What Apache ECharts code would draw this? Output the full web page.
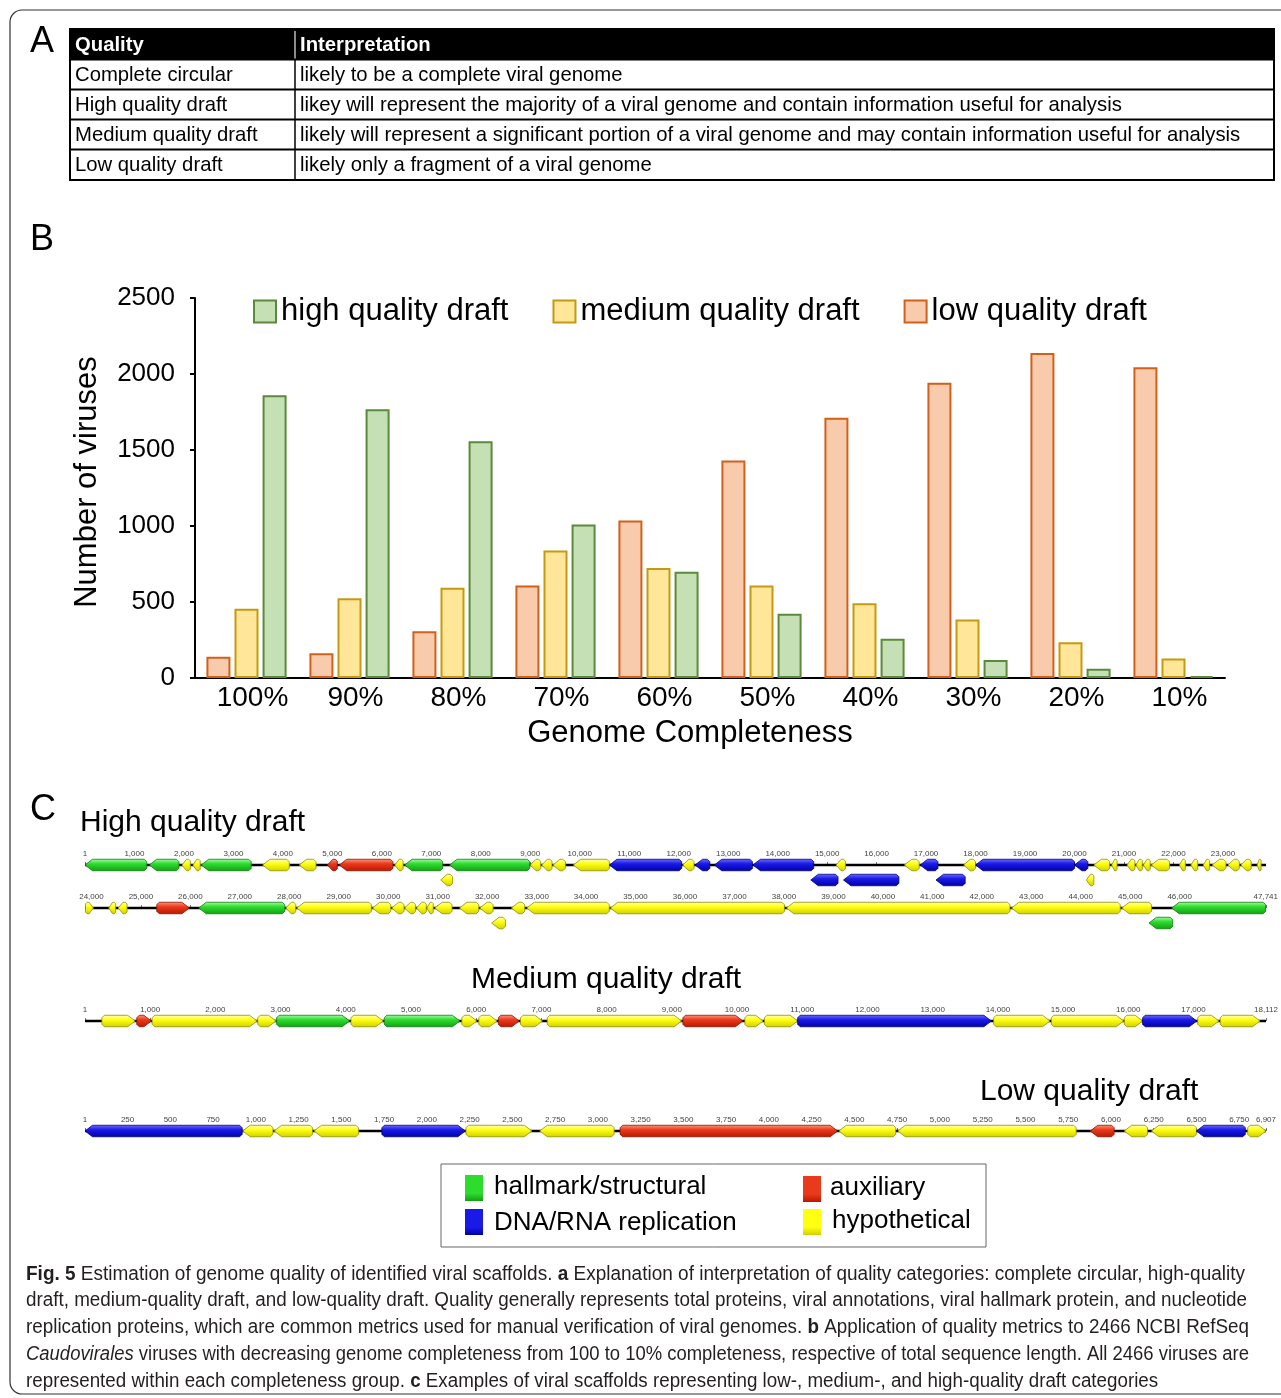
<!DOCTYPE html>
<html><head><meta charset="utf-8">
<script src="https://cdn.jsdelivr.net/npm/echarts@6/dist/echarts.min.js"></script>
<style>html,body{margin:0;padding:0;background:#fff}#c{width:1281px;height:1398px}</style>
</head><body><div id="c"></div>
<script>
// ---------- Panel B data ----------
const completeness = ['100%','90%','80%','70%','60%','50%','40%','30%','20%','10%'];
const lowQuality    = [140, 163, 307, 608, 1037, 1431, 1712, 1942, 2138, 2045];
const mediumQuality = [455, 525, 594, 838, 723, 608, 492, 385, 235, 128];
const highQuality   = [1860, 1768, 1557, 1010, 699, 422, 259, 118, 61, 13];
const yTicks = [0, 500, 1000, 1500, 2000, 2500];

// ---------- Panel A table ----------
const tableHeader = ['Quality', 'Interpretation'];
const tableRows = [
  ['Complete circular', 'likely to be a complete viral genome'],
  ['High quality draft', 'likey will represent the majority of a viral genome and contain information useful for analysis'],
  ['Medium quality draft', 'likely will represent a significant portion of a viral genome and may contain information useful for analysis'],
  ['Low quality draft', 'likely only a fragment of a viral genome']
];

// ---------- Panel C genomes: [start, end, strand, lane, category] ----------
// H hallmark/structural, R DNA/RNA replication, A auxiliary, U hypothetical
const hqLength = 47741;
const hqRowSplit = 23870;
const hqGenes = [
  [1,1250,-1,0,'H'],[1300,1900,-1,0,'H'],[1960,2130,-1,0,'U'],[2180,2330,-1,0,'U'],
  [2350,3360,-1,0,'H'],[3590,4130,-1,0,'U'],[4330,4670,-1,0,'U'],[4900,5100,-1,0,'A'],
  [5140,6225,-1,0,'A'],[6260,6430,-1,0,'U'],[6460,7230,-1,0,'H'],[7190,7430,-1,1,'U'],
  [7370,8990,-1,0,'H'],[9000,9210,-1,0,'U'],[9230,9440,-1,0,'U'],[9460,9710,-1,0,'U'],
  [9870,10600,-1,0,'U'],[10600,12060,-1,0,'R'],[12080,12310,-1,0,'U'],[12330,12630,-1,0,'R'],
  [12720,13490,-1,0,'R'],[13500,14730,-1,0,'R'],[14670,15220,-1,1,'R'],[15180,15370,-1,0,'U'],
  [15330,16450,-1,1,'R'],[16560,16860,-1,0,'U'],[16880,17240,-1,0,'R'],[17200,17790,-1,1,'R'],
  [17760,18000,-1,0,'U'],[18000,20000,-1,0,'R'],[20000,20270,-1,0,'R'],[20240,20390,-1,1,'U'],
  [20390,20710,-1,0,'U'],[20750,20860,-1,0,'U'],[21060,21220,-1,0,'U'],[21240,21370,-1,0,'U'],
  [21390,21530,-1,0,'U'],[21550,21920,-1,0,'U'],[22120,22240,-1,0,'U'],[22350,22490,-1,0,'U'],
  [22600,22730,-1,0,'U'],[22780,23060,-1,0,'U'],[23100,23330,-1,0,'U'],[23360,23570,-1,0,'U'],
  [23690,23770,-1,0,'U'],
  [23880,24040,1,0,'U'],[24350,24490,-1,0,'U'],[24540,24720,-1,0,'U'],[25320,25980,1,0,'A'],
  [26170,27910,-1,0,'H'],[27930,28130,-1,0,'U'],[28150,29660,-1,0,'U'],[29680,30050,-1,0,'U'],
  [30070,30320,-1,0,'U'],[30330,30550,-1,0,'U'],[30570,30770,-1,0,'U'],[30780,30910,-1,0,'U'],
  [30940,31290,-1,0,'U'],[31440,31830,-1,0,'U'],[31850,32120,-1,0,'U'],[32090,32370,-1,1,'U'],
  [32490,32760,-1,0,'U'],[32800,34470,-1,0,'U'],[34490,38010,-1,0,'U'],[38050,42570,-1,0,'U'],
  [42600,44800,-1,0,'U'],[44830,45430,-1,0,'U'],[45380,45860,-1,1,'H'],[45840,47740,-1,0,'H']
];
const mqLength = 18112;
const mqGenes = [
  [260,770,1,0,'U'],[795,1018,1,0,'A'],[1030,2640,1,0,'U'],[2650,2930,1,0,'U'],
  [2940,4060,1,0,'H'],[4080,4575,1,0,'U'],[4590,5750,1,0,'H'],[5780,6010,1,0,'U'],
  [6040,6320,1,0,'U'],[6340,6660,1,0,'A'],[6680,7015,1,0,'U'],[7090,9150,1,0,'U'],
  [9170,10090,1,0,'A'],[10120,10400,1,0,'U'],[10420,10930,1,0,'U'],[10930,13900,1,0,'R'],
  [13935,14800,1,0,'U'],[14820,15930,1,0,'U'],[15940,16220,1,0,'U'],[16220,17050,1,0,'R'],
  [17065,17390,1,0,'U'],[17410,18020,1,0,'U']
];
const lqLength = 6907;
const lqGenes = [
  [1,920,-1,0,'R'],[923,1100,-1,0,'U'],[1107,1331,-1,0,'U'],[1340,1600,-1,0,'U'],
  [1737,2225,1,0,'R'],[2229,2614,1,0,'U'],[2660,3095,-1,0,'U'],[3130,4402,1,0,'A'],
  [4409,4742,-1,0,'U'],[4754,5797,-1,0,'U'],[5879,6019,-1,0,'A'],[6078,6214,-1,0,'U'],
  [6237,6500,-1,0,'U'],[6500,6786,-1,0,'R'],[6800,6907,1,0,'U']
];
const hqRow1Ticks = [1,1000,2000,3000,4000,5000,6000,7000,8000,9000,10000,11000,12000,13000,14000,15000,16000,17000,18000,19000,20000,21000,22000,23000];
const hqRow2Ticks = [24000,25000,26000,27000,28000,29000,30000,31000,32000,33000,34000,35000,36000,37000,38000,39000,40000,41000,42000,43000,44000,45000,46000,47741];
const mqTicks = [1,1000,2000,3000,4000,5000,6000,7000,8000,9000,10000,11000,12000,13000,14000,15000,16000,17000,18112];
const lqTicks = [1,250,500,750,1000,1250,1500,1750,2000,2250,2500,2750,3000,3250,3500,3750,4000,4250,4500,4750,5000,5250,5500,5750,6000,6250,6500,6750,6907];

const geneCategories = ['H','R','A','U'];
const geneLegendNames = ['hallmark/structural','DNA/RNA replication','auxiliary','hypothetical'];
const geneColors = [
  ['#A8FFA8','#2EDC2E','#12A012','#0F7A0F'],
  ['#7070FF','#1A1AE8','#0000A6','#000080'],
  ['#FF9A80','#EA3A1C','#B81800','#8A1000'],
  ['#FFFFC0','#FFFF10','#D0D000','#8F8F00']
];

// ---------- helpers ----------
const FONT = '"Liberation Sans", Arial, sans-serif';
function fmt(v){ return String(v).replace(/\B(?=(\d{3})+(?!\d))/g, ','); }
function toData(genes){ return genes.map(g => [g[0], g[1], g[2], g[3], geneCategories.indexOf(g[4])]); }
function geneRender(params, api){
  const s = api.value(0), e = api.value(1), dir = api.value(2), lane = api.value(3), ci = api.value(4);
  const a = api.coord([s, -lane]), b = api.coord([e, -lane]);
  const y = a[1], h = 11.5, x1 = a[0], x2 = b[0];
  const L = x2 - x1;
  const head = Math.min(7.5, L * 0.55), bv = Math.min(2.5, L * 0.2);
  let pts;
  if (dir > 0) pts = [[x1+bv,y-h/2],[x2-head,y-h/2],[x2,y],[x2-head,y+h/2],[x1+bv,y+h/2],[x1,y+h/2-bv],[x1,y-h/2+bv]];
  else pts = [[x2-bv,y-h/2],[x1+head,y-h/2],[x1,y],[x1+head,y+h/2],[x2-bv,y+h/2],[x2,y+h/2-bv],[x2,y-h/2+bv]];
  const c = geneColors[ci];
  return {type:'polygon', shape:{points:pts}, style:{
    fill:{type:'linear',x:0,y:0,x2:0,y2:1,colorStops:[{offset:0,color:c[0]},{offset:0.4,color:c[1]},{offset:1,color:c[2]}]},
    stroke:c[3], lineWidth:0.8}};
}

const tracks = [
  {center:865, min:1, max:hqRowSplit, ticks:hqRow1Ticks, genes:hqGenes.filter(g=>g[0] < hqRowSplit)},
  {center:908, min:hqRowSplit, max:hqLength, ticks:hqRow2Ticks, genes:hqGenes.filter(g=>g[0] >= hqRowSplit)},
  {center:1021, min:1, max:mqLength, ticks:mqTicks, genes:mqGenes},
  {center:1131, min:1, max:lqLength, ticks:lqTicks, genes:lqGenes}
];

const grids = [{left:195, top:298, width:1030, height:380}];
const xAxes = [{
  type:'category', data:completeness, gridIndex:0,
  axisLine:{lineStyle:{color:'#000', width:2}}, axisTick:{show:false},
  axisLabel:{fontSize:28, color:'#000', margin:6, fontFamily:FONT, padding:[0,0,0,12]},
  name:'Genome Completeness', nameLocation:'middle', nameGap:40,
  nameTextStyle:{fontSize:31, color:'#000', fontFamily:FONT, padding:[0,40,0,0]}
}];
const yAxes = [{
  type:'value', gridIndex:0, min:yTicks[0], max:yTicks[yTicks.length-1], interval:yTicks[1]-yTicks[0],
  axisLine:{show:true, lineStyle:{color:'#000', width:2}},
  axisTick:{show:true, length:5, lineStyle:{color:'#000', width:2}},
  splitLine:{show:false},
  axisLabel:{fontSize:26, color:'#000', margin:20, fontFamily:FONT, formatter:v => String(v)},
  name:'Number of viruses', nameLocation:'middle', nameGap:92, nameRotate:90,
  nameTextStyle:{fontSize:31, color:'#000', fontFamily:FONT, padding:[0,0,0,12]}
}];
const series = [
  {name:'low quality draft', type:'bar', data:lowQuality, barWidth:24, barGap:'17%',
   itemStyle:{color:'#F8CBAD', borderColor:'#D2601A', borderWidth:2}},
  {name:'medium quality draft', type:'bar', data:mediumQuality, barWidth:24, barGap:'17%',
   itemStyle:{color:'#FFE699', borderColor:'#C59A10', borderWidth:2}},
  {name:'high quality draft', type:'bar', data:highQuality, barWidth:24, barGap:'17%',
   itemStyle:{color:'#C5E0B4', borderColor:'#5A8A3A', borderWidth:2}}
];

tracks.forEach((t, i) => {
  const gi = i + 1;
  grids.push({left:85, width:1181, top:t.center - 6, height:30});
  xAxes.push({
    type:'value', gridIndex:gi, position:'top', min:t.min, max:t.max,
    axisLine:{show:false}, splitLine:{show:false},
    axisTick:{show:true, length:3, customValues:t.ticks, lineStyle:{color:'#777', width:1}},
    axisLabel:{show:true, customValues:t.ticks, fontSize:8, color:'#444', margin:1, fontFamily:FONT,
      formatter:v => fmt(v), hideOverlap:false, showMinLabel:true, showMaxLabel:true}
  });
  yAxes.push({type:'value', gridIndex:gi, min:-1.6, max:0.4, show:false});
  series.push({type:'line', xAxisIndex:gi, yAxisIndex:gi, data:[[t.min,0],[t.max,0]], symbol:'none', silent:true,
    lineStyle:{color:'#000', width:2.5}, z:1});
  series.push({type:'custom', xAxisIndex:gi, yAxisIndex:gi, data:toData(t.genes), renderItem:geneRender, silent:true, z:3,
    encode:{x:[0,1], y:3}});
});

// ---------- graphics ----------
const graphic = [];
graphic.push({type:'rect', shape:{x:10, y:10, width:1300, height:1384, r:12}, style:{fill:'none', stroke:'#333', lineWidth:1.2}, z:-1});
[['A',30,42],['B',30,240],['C',30,810]].forEach(p => graphic.push({type:'text', style:{text:p[0], x:p[1], y:p[2], fontSize:36, fontFamily:FONT, fill:'#000', verticalAlign:'middle', textVerticalAlign:'middle'}}));
// table
const tX = 70, tW = 1204, tY = 29, rowH = 30, colX = 295, tFont = 20.3;
graphic.push({type:'rect', shape:{x:tX, y:tY, width:tW, height:rowH}, style:{fill:'#000'}});
graphic.push({type:'line', shape:{x1:colX, y1:tY+2, x2:colX, y2:tY+rowH}, style:{stroke:'#bbb', lineWidth:1.5}});
graphic.push({type:'line', shape:{x1:colX, y1:tY+rowH, x2:colX, y2:tY+rowH*5+1}, style:{stroke:'#000', lineWidth:1.5}});
for (let r = 1; r < 5; r++) graphic.push({type:'line', shape:{x1:tX, y1:tY+rowH*r+0.5, x2:tX+tW, y2:tY+rowH*r+0.5}, style:{stroke:'#000', lineWidth:2}});
graphic.push({type:'rect', shape:{x:tX, y:tY, width:tW, height:rowH*5+1}, style:{fill:'none', stroke:'#000', lineWidth:2}});
graphic.push({type:'text', style:{text:tableHeader[0], x:tX+5, y:tY+rowH/2+1, fontSize:tFont, fontWeight:'bold', fontFamily:FONT, fill:'#fff', verticalAlign:'middle', textVerticalAlign:'middle'}});
graphic.push({type:'text', style:{text:tableHeader[1], x:colX+5, y:tY+rowH/2+1, fontSize:tFont, fontWeight:'bold', fontFamily:FONT, fill:'#fff', verticalAlign:'middle', textVerticalAlign:'middle'}});
tableRows.forEach((row, r) => {
  const y = tY + rowH*(r+1) + rowH/2 + 1;
  graphic.push({type:'text', style:{text:row[0], x:tX+5, y:y, fontSize:tFont, fontFamily:FONT, fill:'#000', verticalAlign:'middle', textVerticalAlign:'middle'}});
  graphic.push({type:'text', style:{text:row[1], x:colX+5, y:y, fontSize:tFont, fontFamily:FONT, fill:'#000', verticalAlign:'middle', textVerticalAlign:'middle'}});
});
// panel C titles
graphic.push({type:'text', style:{text:'High quality draft', x:80, y:823, fontSize:30, fontFamily:FONT, fill:'#000', verticalAlign:'middle', textVerticalAlign:'middle'}});
graphic.push({type:'text', style:{text:'Medium quality draft', x:606, y:980, align:'center', textAlign:'center', fontSize:30, fontFamily:FONT, fill:'#000', verticalAlign:'middle', textVerticalAlign:'middle'}});
graphic.push({type:'text', style:{text:'Low quality draft', x:980, y:1092, fontSize:30, fontFamily:FONT, fill:'#000', verticalAlign:'middle', textVerticalAlign:'middle'}});
// gene legend
graphic.push({type:'rect', shape:{x:441, y:1164, width:545, height:83}, style:{fill:'#fff', stroke:'#666', lineWidth:1}});
const legPos = [[465,1175,494,1187],[465,1209,494,1223],[803,1176,830,1188],[803,1209,832,1221]];
geneLegendNames.forEach((n, i) => {
  const p = legPos[i], c = geneColors[i];
  graphic.push({type:'rect', shape:{x:p[0], y:p[1], width:18, height:26}, style:{fill:{type:'linear',x:0,y:0,x2:0,y2:1,colorStops:[{offset:0,color:c[1]},{offset:0.7,color:c[1]},{offset:1,color:c[2]}]}}});
  graphic.push({type:'text', style:{text:n, x:p[2], y:p[3], fontSize:26, fontFamily:FONT, fill:'#000', verticalAlign:'middle', textVerticalAlign:'middle'}});
});
// caption (condensed by horizontal scaling to match the narrow journal face)
const capSize = 20;
const captionLines = [
  '{b|Fig. 5} Estimation of genome quality of identified viral scaffolds. {b|a} Explanation of interpretation of quality categories: complete circular, high-quality',
  'draft, medium-quality draft, and low-quality draft. Quality generally represents total proteins, viral annotations, viral hallmark protein, and nucleotide',
  'replication proteins, which are common metrics used for manual verification of viral genomes. {b|b} Application of quality metrics to 2466 NCBI RefSeq',
  '{i|Caudovirales} viruses with decreasing genome completeness from 100 to 10% completeness, respective of total sequence length. All 2466 viruses are',
  'represented within each completeness group. {b|c} Examples of viral scaffolds representing low-, medium-, and high-quality draft categories'
];
const captionRight = [1245, 1247, 1249, 1249, null];
const mctx = document.createElement('canvas').getContext('2d');
function measureRich(line){
  let w = 0; const re = /\{(b|i)\|([^}]*)\}|([^{]+)/g; let m;
  while ((m = re.exec(line))) {
    if (m[3]) { mctx.font = capSize + 'px ' + FONT; w += mctx.measureText(m[3]).width; }
    else { mctx.font = (m[1]==='b' ? 'bold ' : 'italic ') + capSize + 'px ' + FONT; w += mctx.measureText(m[2]).width; }
  }
  return w;
}
const capScales = captionLines.map((l, i) => captionRight[i] ? (captionRight[i] - 26) / measureRich(l) : null);
const avgScale = capScales.filter(s => s).reduce((a, b) => a + b, 0) / 4;
captionLines.forEach((l, i) => {
  graphic.push({type:'text', x:26, y:1274 + i*26.8, scaleX:capScales[i] || avgScale, scaleY:1,
    style:{text:l, x:0, y:0, fontSize:capSize, fontFamily:FONT, fill:'#231f20', verticalAlign:'middle', textVerticalAlign:'middle',
    rich:{b:{fontWeight:'bold', fontSize:capSize, fontFamily:FONT, fill:'#231f20'}, i:{fontStyle:'italic', fontSize:capSize, fontFamily:FONT, fill:'#231f20'}}}});
});

const chart = echarts.init(document.getElementById('c'), null, {renderer:'canvas'});
chart.setOption({
  animation:false,
  backgroundColor:'#fff',
  textStyle:{fontFamily:FONT},
  legend:{data:['high quality draft','medium quality draft','low quality draft'], top:291, left:248,
    itemWidth:22, itemHeight:22, itemGap:44, icon:'rect',
    textStyle:{fontSize:31, color:'#000', fontFamily:FONT}},
  grid:grids, xAxis:xAxes, yAxis:yAxes, series:series, graphic:graphic
});
</script></body></html>
